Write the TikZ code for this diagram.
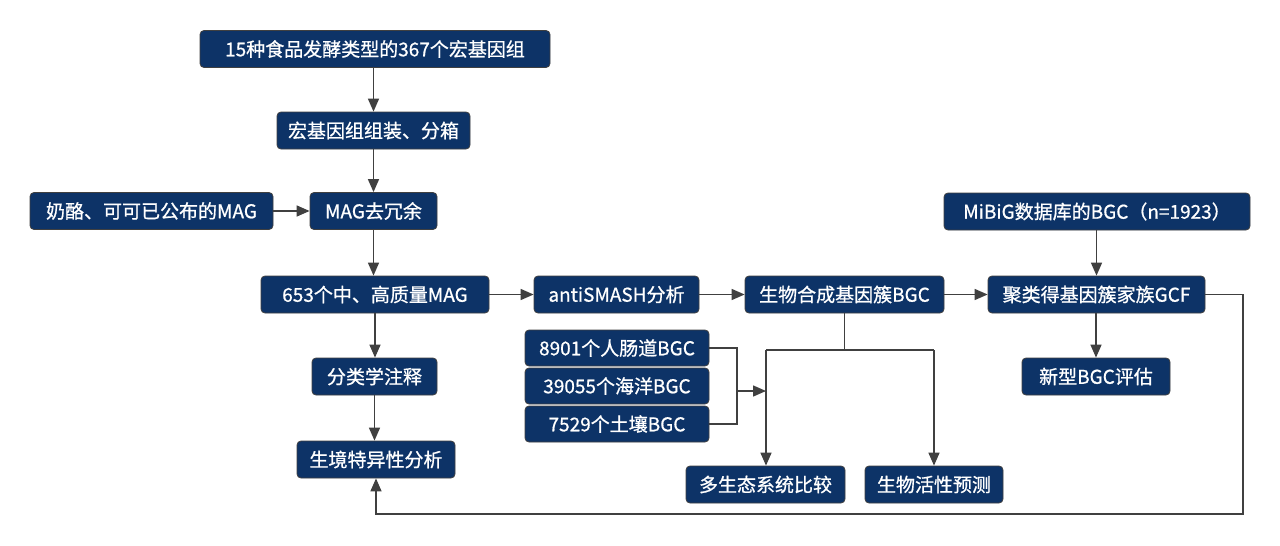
\documentclass[tikz,border=0pt]{standalone}
\usepackage{fontspec}
\setmainfont{Noto Sans CJK SC}
\newfontfamily\boxfont{Noto Sans CJK SC}[FakeBold=0.8]
\usetikzlibrary{arrows.meta}
\definecolor{boxblue}{HTML}{0D3367}
\definecolor{linegray}{HTML}{404040}
\begin{document}
\begin{tikzpicture}[x=1pt,y=-1pt,
 box/.style={draw=black!75, line width=0.8pt, fill=boxblue, rounded corners=4pt, text=white,
   font=\boxfont\fontsize{19}{21}\selectfont, minimum height=37pt, inner sep=0pt, anchor=center},
 conn/.style={draw=linegray, line width=1.5pt, -{Triangle[length=13pt,width=11pt]}},
 plain/.style={draw=linegray, line width=1.5pt}]
\useasboundingbox (0,0) rectangle (1280,546);
\fill[white] (0,0) rectangle (1280,546);

\node[box, minimum width=350pt] (n1) at (375,49) {15种食品发酵类型的367个宏基因组};
\node[box, minimum width=193pt] (n2) at (373.5,130.5) {宏基因组组装、分箱};
\node[box, minimum width=243pt] (n3) at (151.5,211) {奶酪、可可已公布的MAG};
\node[box, minimum width=127pt] (n4) at (373.5,211) {MAG去冗余};
\node[box, minimum width=228pt] (n5) at (375,294.5) {653个中、高质量MAG};
\node[box, minimum width=165pt] (n6) at (616.5,294.5) {antiSMASH分析};
\node[box, minimum width=199pt] (n7) at (844.5,294.5) {生物合成基因簇BGC};
\node[box, minimum width=217pt] (n8) at (1096.5,294.5) {聚类得基因簇家族GCF};
\node[box, minimum width=306pt] (n9) at (1097,211.5) {MiBiG数据库的BGC（n=1923）};
\node[box, minimum width=148pt] (n10) at (1096,376.5) {新型BGC评估};
\node[box, minimum width=125pt] (n11) at (374.5,376.5) {分类学注释};
\node[box, minimum width=158pt] (n12) at (376,459.5) {生境特异性分析};
\node[box, minimum width=184pt, minimum height=36pt] (n13) at (617,348) {8901个人肠道BGC};
\node[box, minimum width=184pt, minimum height=36pt] (n14) at (617,386) {39055个海洋BGC};
\node[box, minimum width=184pt, minimum height=36pt] (n15) at (617,424) {7529个土壤BGC};
\node[box, minimum width=159pt] (n16) at (765.5,484.5) {多生态系统比较};
\node[box, minimum width=138pt] (n17) at (934,484.5) {生物活性预测};

\draw[conn] (n2.north |- n1.south) -- (n2.north);
\draw[conn] (n2.south) -- (n2.south |- n4.north);
\draw[conn] (n3.east) -- (n4.west);
\draw[conn] (n4.south) -- (n4.south |- n5.north);
\draw[conn] (n5.east) -- (n6.west);
\draw[conn] (n6.east) -- (n7.west);
\draw[conn] (n7.east) -- (n8.west);
\draw[conn] (n8.north |- n9.south) -- (n8.north);
\draw[conn] (n10.north |- n8.south) -- (n10.north);
\draw[conn] (n5.south) -- (n5.south |- n11.north);
\draw[conn] (n11.south) -- (n11.south |- n12.north);

\coordinate (j1) at (844.5,350);
\coordinate (j2) at (766,350);
\coordinate (j3) at (934,350);
\draw[plain] (n7.south) -- (j1);
\draw[plain] (j2) -- (j3);
\draw[conn] (j2) -- (j2 |- n16.north);
\draw[conn] (j3) -- (j3 |- n17.north);

\coordinate (bm) at (737,391);
\draw[plain] (n13.east) -| (bm) |- (n15.east);
\draw[conn] (bm) -- (bm -| j2);

\coordinate (lp) at (1243,514);
\draw[conn] (n8.east) -| (lp) -| (n12.south);
\end{tikzpicture}
\end{document}
